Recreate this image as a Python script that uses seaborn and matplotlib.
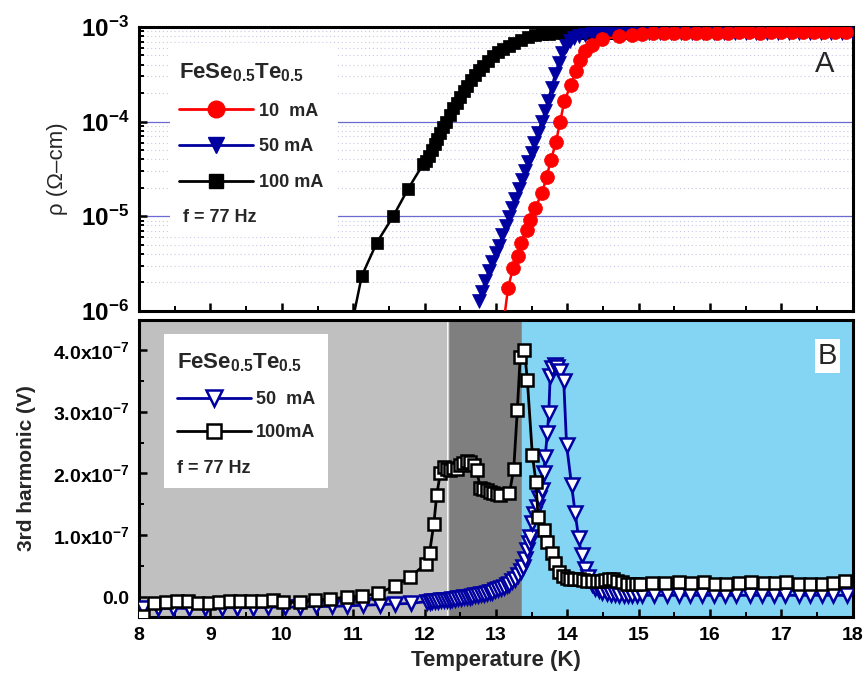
import numpy as np
import pandas as pd
import seaborn as sns
import matplotlib.pyplot as plt
from matplotlib.lines import Line2D
from matplotlib.patches import Rectangle
from matplotlib.ticker import MultipleLocator, LogLocator, NullFormatter

sns.set_theme(style='white')
plt.rcParams['font.family'] = ['Liberation Sans', 'DejaVu Sans']
plt.rcParams['mathtext.fontset'] = 'custom'
plt.rcParams['mathtext.rm'] = 'Liberation Sans'
plt.rcParams['mathtext.bf'] = 'Liberation Sans:bold'
plt.rcParams['mathtext.it'] = 'Liberation Sans:italic'
plt.rcParams['mathtext.default'] = 'bf'

# ---- panel A: resistivity (Ohm-cm) vs temperature (K)
T_10 = [13.10, 13.17, 13.24, 13.31, 13.35, 13.43, 13.48, 13.55, 13.65, 13.71, 13.77, 13.84,
        13.90, 13.96, 14.05, 14.12, 14.18, 14.25, 14.35, 14.49, 14.72,
        14.90, 15.05, 15.20, 15.35, 15.50, 15.65, 15.80, 15.95, 16.10, 16.25, 16.40, 16.55,
        16.70, 16.85, 17.00, 17.15, 17.30, 17.45, 17.60, 17.75, 17.90]
rho_10 = [6.8e-7, 1.75e-6, 2.84e-6, 3.80e-6, 5.25e-6, 7.24e-6, 9.12e-6, 1.23e-5, 1.78e-5, 2.63e-5, 3.89e-5, 6.03e-5,
          1.0e-4, 1.66e-4, 2.45e-4, 3.39e-4, 4.47e-4, 5.50e-4, 6.46e-4, 7.41e-4, 7.94e-4,
          8.3e-4, 8.5e-4, 8.6e-4, 8.6e-4, 8.7e-4, 8.7e-4, 8.7e-4, 8.7e-4, 8.7e-4, 8.7e-4, 8.8e-4, 8.8e-4,
          8.7e-4, 8.8e-4, 8.8e-4, 8.8e-4, 8.8e-4, 8.8e-4, 8.8e-4, 8.8e-4, 8.9e-4]

T_50 = [12.76, 12.80, 12.85, 12.90, 12.95, 13.00, 13.04, 13.09, 13.14, 13.18, 13.23, 13.27,
        13.32, 13.36, 13.41, 13.45, 13.50, 13.54, 13.59, 13.64, 13.69, 13.73, 13.78, 13.83,
        13.88, 13.93, 13.98, 14.04, 14.10, 14.17, 14.25, 14.35, 14.45,
        14.55, 14.70, 14.85, 15.00, 15.15, 15.30, 15.45, 15.60, 15.75, 15.90, 16.05, 16.20,
        16.35, 16.50, 16.65, 16.80, 16.95, 17.10, 17.25, 17.40, 17.55, 17.70, 17.85, 18.00]
rho_50 = [1.26e-6, 1.58e-6, 2.09e-6, 2.63e-6, 3.31e-6, 4.07e-6, 4.90e-6, 6.31e-6, 7.94e-6, 9.77e-6, 1.23e-5, 1.51e-5,
          1.95e-5, 2.40e-5, 3.02e-5, 3.72e-5, 4.68e-5, 5.89e-5, 7.59e-5, 1.0e-4, 1.29e-4, 1.66e-4, 2.29e-4, 3.16e-4,
          4.17e-4, 5.25e-4, 6.31e-4, 7.08e-4, 7.59e-4, 7.94e-4, 8.13e-4, 8.32e-4, 8.41e-4,
          8.5e-4, 8.5e-4, 8.6e-4, 8.6e-4, 8.6e-4, 8.6e-4, 8.7e-4, 8.6e-4, 8.7e-4, 8.7e-4, 8.7e-4, 8.6e-4,
          8.7e-4, 8.7e-4, 8.7e-4, 8.7e-4, 8.7e-4, 8.7e-4, 8.7e-4, 8.7e-4, 8.7e-4, 8.7e-4, 8.7e-4, 8.7e-4]

T_100 = [10.92, 11.12, 11.33, 11.56, 11.77, 11.98,
         12.02, 12.06, 12.10, 12.14, 12.18, 12.22, 12.26, 12.30, 12.35, 12.40, 12.45, 12.50,
         12.55, 12.60, 12.65, 12.70, 12.76, 12.82, 12.89, 12.96, 13.03, 13.10, 13.18, 13.26,
         13.35, 13.45, 13.55, 13.65, 13.75, 13.85,
         13.95, 14.05, 14.15, 14.25, 14.35, 14.45, 14.55, 14.65, 14.75, 14.85, 14.95]
rho_100 = [4.3e-7, 2.34e-6, 5.25e-6, 1.0e-5, 1.95e-5, 3.55e-5,
           3.80e-5, 4.37e-5, 5.01e-5, 5.75e-5, 6.61e-5, 7.59e-5, 8.71e-5, 1.0e-4, 1.17e-4, 1.38e-4, 1.58e-4, 1.82e-4,
           2.09e-4, 2.40e-4, 2.75e-4, 3.09e-4, 3.47e-4, 3.89e-4, 4.37e-4, 4.90e-4, 5.37e-4, 5.89e-4, 6.31e-4, 6.76e-4,
           7.24e-4, 7.76e-4, 8.13e-4, 8.32e-4, 8.51e-4, 8.61e-4,
           8.7e-4, 8.7e-4, 8.7e-4, 8.7e-4, 8.7e-4, 8.7e-4, 8.7e-4, 8.7e-4, 8.7e-4, 8.7e-4, 8.7e-4]

# ---- panel B: third harmonic voltage (units of 1e-7 V) vs temperature (K)
T3_50 = [8.06, 8.27, 8.48, 8.70, 8.92, 9.16, 9.37, 9.60, 9.81, 10.05, 10.25, 10.48, 10.70,
         10.92, 11.14, 11.37, 11.59, 11.81,
         12.03, 12.07, 12.11, 12.15, 12.19, 12.23, 12.27, 12.31, 12.35, 12.39, 12.43, 12.47,
         12.51, 12.55, 12.59, 12.63, 12.67, 12.71, 12.75, 12.79, 12.83, 12.87, 12.91, 12.95,
         12.99, 13.03, 13.07, 13.11, 13.15, 13.19, 13.23, 13.27, 13.31, 13.35, 13.38, 13.41,
         13.43, 13.46, 13.48, 13.50, 13.54, 13.57, 13.61, 13.64, 13.67, 13.69, 13.72, 13.74,
         13.76, 13.79, 13.83, 13.86, 13.90, 13.95, 13.99, 14.06, 14.11, 14.16, 14.20, 14.25,
         14.29, 14.34, 14.39, 14.44, 14.49, 14.55, 14.61, 14.67, 14.73, 14.79, 14.85, 14.91,
         14.97, 15.05, 15.22, 15.39, 15.56, 15.72, 15.89, 16.05, 16.21, 16.37, 16.56, 16.73,
         16.89, 17.05, 17.24, 17.40, 17.57, 17.73, 17.92]
V3_50 = [-0.17, -0.18, -0.18, -0.18, -0.18, -0.17, -0.17, -0.17, -0.16, -0.16, -0.16, -0.15, -0.15,
         -0.14, -0.13, -0.12, -0.11, -0.10,
         -0.07, -0.07, -0.06, -0.06, -0.06, -0.05, -0.05, -0.05, -0.04, -0.03, -0.03, -0.02,
         -0.01, 0.00, 0.005, 0.01, 0.02, 0.03, 0.04, 0.05, 0.05, 0.06, 0.08, 0.09,
         0.11, 0.13, 0.15, 0.17, 0.19, 0.22, 0.26, 0.30, 0.36, 0.42, 0.49, 0.62,
         0.76, 0.88, 0.98, 1.20, 1.35, 1.46, 1.60, 1.73, 2.00, 2.27, 2.65, 2.97,
         3.57, 3.70, 3.76, 3.72, 3.65, 3.49, 2.46, 1.81, 1.36, 0.95, 0.68, 0.46,
         0.33, 0.22, 0.15, 0.11, 0.08, 0.06, 0.05, 0.05, 0.04, 0.04, 0.04, 0.03,
         0.03, 0.03, 0.03, 0.03, 0.03, 0.03, 0.03, 0.03, 0.03, 0.03, 0.03, 0.03,
         0.03, 0.03, 0.03, 0.03, 0.03, 0.03, 0.03]

T3_100 = [8.06, 8.21, 8.37, 8.53, 8.68, 8.83, 8.98, 9.12, 9.27, 9.42, 9.57, 9.72, 9.87, 10.02,
          10.25, 10.46, 10.68, 10.91, 11.13, 11.35, 11.58, 11.80, 12.02, 12.07, 12.13, 12.17,
          12.22, 12.27, 12.31, 12.36, 12.40, 12.45, 12.50, 12.54, 12.59, 12.64, 12.69, 12.73,
          12.78, 12.82, 12.87, 12.91, 12.96, 13.01, 13.06, 13.19, 13.25, 13.30, 13.34, 13.40,
          13.44, 13.51, 13.56, 13.59, 13.67, 13.72, 13.78, 13.83, 13.89, 13.94, 13.99, 14.04,
          14.10, 14.16, 14.22, 14.28, 14.34, 14.41, 14.47, 14.53, 14.59, 14.64, 14.70, 14.76,
          14.83, 14.90, 14.96, 15.02, 15.19, 15.37, 15.56, 15.74, 15.91, 16.07, 16.23, 16.40,
          16.58, 16.75, 16.91, 17.07, 17.24, 17.40, 17.57, 17.73, 17.89]
V3_100 = [-0.31, -0.09, -0.08, -0.065, -0.06, -0.09, -0.09, -0.08, -0.065, -0.065, -0.065, -0.065, -0.05, -0.08,
          -0.08, -0.05, -0.03, 0.005, 0.016, 0.06, 0.18, 0.33, 0.54, 0.72, 1.19, 1.65,
          2.00, 2.11, 2.07, 2.06, 2.09, 2.08, 2.14, 2.17, 2.20, 2.19, 2.14, 2.06,
          1.76, 1.75, 1.73, 1.70, 1.68, 1.66, 1.65, 1.68, 2.08, 3.03, 3.89, 3.99,
          3.51, 2.30, 1.87, 1.30, 1.09, 0.90, 0.71, 0.55, 0.41, 0.34, 0.31, 0.30,
          0.29, 0.29, 0.28, 0.27, 0.26, 0.26, 0.27, 0.28, 0.29, 0.29, 0.27, 0.24,
          0.22, 0.22, 0.22, 0.22, 0.23, 0.23, 0.24, 0.23, 0.25, 0.22, 0.21, 0.23,
          0.25, 0.23, 0.23, 0.25, 0.21, 0.22, 0.21, 0.23, 0.26]

# shaded temperature regions of panel B (K)
region_edges = [(8.0, 12.31), (12.33, 13.36), (13.37, 18.0)]
region_colors = ['#C0C0C0', '#7F7F7F', '#84D4F4']

top = pd.DataFrame({'T': T_10 + T_50 + T_100, 'rho': rho_10 + rho_50 + rho_100,
                    'I': ['10 mA'] * len(T_10) + ['50 mA'] * len(T_50) + ['100 mA'] * len(T_100)})
bot = pd.DataFrame({'T': T3_50 + T3_100, 'V': np.array(V3_50 + V3_100) * 1e-7,
                    'I': ['50 mA'] * len(T3_50) + ['100 mA'] * len(T3_100)})

navy = '#0000A0'
fig = plt.figure(figsize=(8.64, 6.73), dpi=100)
ax1 = fig.add_axes([0.161, 0.538, 0.826, 0.422])
ax2 = fig.add_axes([0.161, 0.0832, 0.826, 0.4413])

# ---------------- panel A
ax1.set_yscale('log')
sty = {'100 mA': dict(color='black', marker='s', markersize=8.5),
       '50 mA': dict(color=navy, marker='v', markersize=10.5),
       '10 mA': dict(color='red', marker='o', markersize=10)}
for cur in ['100 mA', '50 mA', '10 mA']:
    s = sty[cur]
    sns.lineplot(data=top[top['I'] == cur], x='T', y='rho', ax=ax1, sort=False, estimator=None,
                 legend=False, color=s['color'], marker=s['marker'], markersize=s['markersize'],
                 markeredgecolor=s['color'], markeredgewidth=0.5, linewidth=1.8, zorder=3)
ax1.set_xlim(8, 18)
ax1.set_ylim(1e-6, 1e-3)
ax1.set_axisbelow(True)
ax1.yaxis.set_minor_locator(LogLocator(base=10, subs=range(2, 10)))
ax1.yaxis.set_minor_formatter(NullFormatter())
ax1.set_yticks([1e-6, 1e-5, 1e-4, 1e-3])
ax1.set_yticklabels([r'$10^{-6}$', r'$10^{-5}$', r'$10^{-4}$', r'$10^{-3}$'], fontsize=17.5)
ax1.yaxis.grid(True, which='major', color='#6a6ad2', linewidth=0.9, linestyle='-')
ax1.yaxis.grid(True, which='minor', color='#c8c8e6', linewidth=0.8, linestyle=(0, (1, 2.5)))
ax1.xaxis.grid(False)
ax1.xaxis.set_major_locator(MultipleLocator(1))
ax1.xaxis.set_minor_locator(MultipleLocator(0.5))
ax1.tick_params(labelbottom=False)
ax1.set_xlabel('')
ax1.set_ylabel('ρ (Ω–cm)', fontsize=16)
ax1.yaxis.set_label_coords(-0.1, 0.5)

ax1.add_patch(Rectangle((0.043, 0.275), 0.236, 0.67, transform=ax1.transAxes,
                        facecolor='white', edgecolor='none', zorder=1))
h1 = [Line2D([], [], color='red', marker='o', markersize=12, lw=2),
      Line2D([], [], color=navy, marker='v', markersize=12, lw=2),
      Line2D([], [], color='black', marker='s', markersize=10, lw=2)]
leg1 = ax1.legend(h1, ['10  mA', '50 mA', '100 mA'], title='FeSe$_{0.5}$Te$_{0.5}$',
                  loc='upper left', bbox_to_anchor=(0.056, 0.877), frameon=False,
                  prop=dict(weight='bold', size=13), title_fontproperties=dict(weight='bold', size=16),
                  alignment='left', handlelength=4.1, handletextpad=0.3, labelspacing=1.05,
                  borderpad=0, borderaxespad=0)
leg1._legend_box.sep = 13
leg1.set_zorder(4)
ax1.text(0.061, 0.33, 'f = 77 Hz', transform=ax1.transAxes, fontsize=13, fontweight='bold',
         va='center', ha='left', zorder=4)
ax1.text(0.96, 0.87, 'A', transform=ax1.transAxes, fontsize=21, ha='center', va='center')

# ---------------- panel B
for (a, b), c in zip(region_edges, region_colors):
    ax2.axvspan(a, b, facecolor=c, edgecolor='#d2d2d2' if c == '#7F7F7F' else 'none', lw=1.0, zorder=0)
sns.lineplot(data=bot[bot['I'] == '50 mA'], x='T', y='V', ax=ax2, sort=False, estimator=None, legend=False,
             color=navy, marker='v', markersize=10, markerfacecolor='white', markeredgecolor=navy,
             markeredgewidth=1.8, linewidth=2, zorder=3)
sns.lineplot(data=bot[bot['I'] == '100 mA'], x='T', y='V', ax=ax2, sort=False, estimator=None, legend=False,
             color='black', marker='s', markersize=8, markerfacecolor='white', markeredgecolor='black',
             markeredgewidth=1.8, linewidth=2, zorder=3)
ax2.set_xlim(8, 18)
ax2.set_ylim(-0.32e-7, 4.48e-7)
ax2.set_yticks([0, 1e-7, 2e-7, 3e-7, 4e-7])
ax2.set_yticklabels(['0.0', '1.0x10$^{-7}$', '2.0x10$^{-7}$', '3.0x10$^{-7}$', '4.0x10$^{-7}$'],
                    fontsize=14, fontweight='bold')
ax2.yaxis.set_minor_locator(MultipleLocator(0.5e-7))
ax2.set_xticks(range(8, 19))
ax2.xaxis.set_minor_locator(MultipleLocator(0.5))
ax2.set_xticklabels([str(v) for v in range(8, 19)], fontsize=14, fontweight='bold')
ax2.grid(False)
ax2.set_xlabel('Temperature (K)', fontsize=16, fontweight='bold')
ax2.set_ylabel('3rd harmonic (V)', fontsize=15, fontweight='bold')
ax2.xaxis.set_label_coords(0.5, -0.11)
ax2.yaxis.set_label_coords(-0.145, 0.5)

ax2.add_patch(Rectangle((0.035, 0.434), 0.23, 0.519, transform=ax2.transAxes,
                        facecolor='white', edgecolor='none', zorder=1))
h2 = [Line2D([], [], color=navy, marker='v', markersize=12, markerfacecolor='white', markeredgewidth=1.8, lw=2),
      Line2D([], [], color='black', marker='s', markersize=9.5, markerfacecolor='white', markeredgewidth=1.8, lw=2)]
leg2 = ax2.legend(h2, ['50  mA', '100mA'], title='FeSe$_{0.5}$Te$_{0.5}$',
                  loc='upper left', bbox_to_anchor=(0.053, 0.893), frameon=False,
                  prop=dict(weight='bold', size=13), title_fontproperties=dict(weight='bold', size=16),
                  alignment='left', handlelength=4.1, handletextpad=0.3, labelspacing=0.9,
                  borderpad=0, borderaxespad=0)
leg2._legend_box.sep = 12
leg2.set_zorder(4)
ax2.text(0.053, 0.50, 'f = 77 Hz', transform=ax2.transAxes, fontsize=13, fontweight='bold',
         va='center', ha='left', zorder=4)
ax2.text(0.965, 0.88, 'B', transform=ax2.transAxes, fontsize=21, ha='center', va='center',
         bbox=dict(facecolor='white', edgecolor='none', pad=2))

for ax in (ax1, ax2):
    for sp in ax.spines.values():
        sp.set_visible(True)
        sp.set_color('black')
        sp.set_linewidth(2.2)
    ax.tick_params(which='both', direction='in', bottom=True, left=True, top=False, right=False,
                   colors='black', labelcolor='black')
    ax.tick_params(which='major', length=6, width=1.8, pad=7)
    ax.tick_params(which='minor', length=3.5, width=1.4)

fig.savefig('out.png', dpi=100)
